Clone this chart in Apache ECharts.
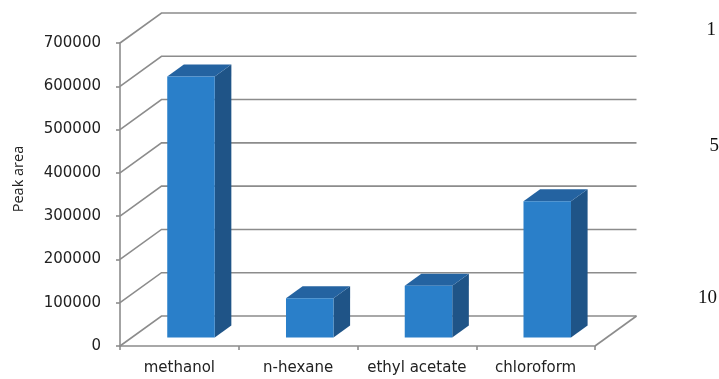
<!DOCTYPE html>
<html>
<head>
<meta charset="utf-8">
<script src="https://cdn.jsdelivr.net/npm/echarts@6/dist/echarts.min.js"></script>
<style>
  html, body { margin: 0; padding: 0; background: #ffffff; }
  #chart { width: 719px; height: 379px; }
</style>
</head>
<body>
<div id="chart"></div>
<script>
// Solvent extraction results
const categories = ['methanol', 'n-hexane', 'ethyl acetate', 'chloroform'];
const peakArea = [603000, 91000, 120000, 315000];
const yMax = 700000;
const yStep = 100000;
const lineNumbers = ['1', '5', '10'];

// Perspective depth of the 3D box (pixels) and bar placement inside it
const DEPTH_X = 41.5;
const DEPTH_Y = -30;
const BAR_FRONT = 0.28;
const BAR_BACK = 0.68;
const BAR_WIDTH = 0.4;

const FONT = 'DejaVu Sans';
const SERIF = 'Liberation Serif';
const TEXT_COLOR = '#222222';
const GRID_COLOR = '#8c8c8c';

const gridValues = [];
for (let v = 0; v <= yMax; v += yStep) gridValues.push([0, v]);

const chart = echarts.init(document.getElementById('chart'), null, { renderer: 'canvas' });

function renderWalls(params, api) {
  const cs = params.coordSys;
  const y = api.coord([0, api.value(1)])[1];
  const children = [{
    type: 'polyline',
    shape: { points: [[cs.x, y], [cs.x + DEPTH_X, y + DEPTH_Y], [cs.x + cs.width + DEPTH_X, y + DEPTH_Y]] },
    style: { stroke: GRID_COLOR, lineWidth: 1.6, fill: null }
  }];
  if (api.value(1) === 0) {
    // right edge of the floor
    children.push({
      type: 'line',
      shape: { x1: cs.x + cs.width, y1: y, x2: cs.x + cs.width + DEPTH_X, y2: y + DEPTH_Y },
      style: { stroke: GRID_COLOR, lineWidth: 1.6 }
    });
  }
  return { type: 'group', children };
}

function renderBar(params, api) {
  const idx = api.value(0);
  const base = api.coord([idx, 0]);
  const top = api.coord([idx, api.value(1)]);
  const band = api.size([1, 0])[0];
  const w = band * BAR_WIDTH;
  const ox = DEPTH_X * BAR_FRONT, oy = DEPTH_Y * BAR_FRONT;
  const dx = DEPTH_X * (BAR_BACK - BAR_FRONT), dy = DEPTH_Y * (BAR_BACK - BAR_FRONT);
  const x0 = base[0] - w / 2 + ox, x1 = x0 + w;
  const yb = base[1] + oy, yt = top[1] + oy;
  return {
    type: 'group',
    children: [
      { type: 'polygon', shape: { points: [[x1, yt], [x1 + dx, yt + dy], [x1 + dx, yb + dy], [x1, yb]] },
        style: { fill: '#1f5487' } },
      { type: 'polygon', shape: { points: [[x0, yt], [x1, yt], [x1 + dx, yt + dy], [x0 + dx, yt + dy]] },
        style: { fill: '#2463a1' } },
      { type: 'rect', shape: { x: x0, y: yt, width: w, height: yb - yt },
        style: { fill: '#2a7fc9' } }
    ]
  };
}

const option = {
  backgroundColor: '#ffffff',
  animation: false,
  grid: { left: 120, right: 124, top: 43, bottom: 33 },
  xAxis: {
    type: 'category',
    data: categories,
    boundaryGap: true,
    axisLine: { show: true, lineStyle: { color: GRID_COLOR, width: 1.6 } },
    axisTick: { show: true, length: 4, lineStyle: { color: GRID_COLOR, width: 1.6 } },
    axisLabel: { color: TEXT_COLOR, fontSize: 15, fontFamily: FONT, margin: 15, interval: 0 },
    splitLine: { show: false }
  },
  yAxis: {
    type: 'value',
    min: 0,
    max: yMax,
    interval: yStep,
    axisLine: { show: true, lineStyle: { color: GRID_COLOR, width: 1.6 } },
    axisTick: { show: true, length: 4, lineStyle: { color: GRID_COLOR, width: 1.6 } },
    axisLabel: { color: TEXT_COLOR, fontSize: 15, fontFamily: FONT, margin: 19,
      formatter: (v) => String(v) },
    splitLine: { show: false }
  },
  graphic: [
    { type: 'text', x: 19, y: 179, rotation: Math.PI / 2, origin: [0, 0],
      style: { text: 'Peak area', fill: TEXT_COLOR, fontSize: 14.5, fontFamily: 'Open Sans',
        align: 'center', verticalAlign: 'middle' } },
    { type: 'text', x: 716, y: 30,
      style: { text: lineNumbers[0], fill: '#111', fontSize: 19, fontFamily: SERIF,
        align: 'right', verticalAlign: 'middle' } },
    { type: 'text', x: 719, y: 146,
      style: { text: lineNumbers[1], fill: '#111', fontSize: 19, fontFamily: SERIF,
        align: 'right', verticalAlign: 'middle' } },
    { type: 'text', x: 717, y: 298,
      style: { text: lineNumbers[2], fill: '#111', fontSize: 19, fontFamily: SERIF,
        align: 'right', verticalAlign: 'middle' } }
  ],
  series: [
    {
      type: 'custom',
      name: 'walls',
      renderItem: renderWalls,
      data: gridValues,
      encode: { x: 0, y: 1 },
      clip: false,
      silent: true,
      z: 1
    },
    {
      type: 'custom',
      name: 'Peak area',
      renderItem: renderBar,
      data: categories.map((c, i) => [i, peakArea[i]]),
      encode: { x: 0, y: 1 },
      clip: false,
      z: 3
    }
  ]
};

chart.setOption(option);
</script>
</body>
</html>
